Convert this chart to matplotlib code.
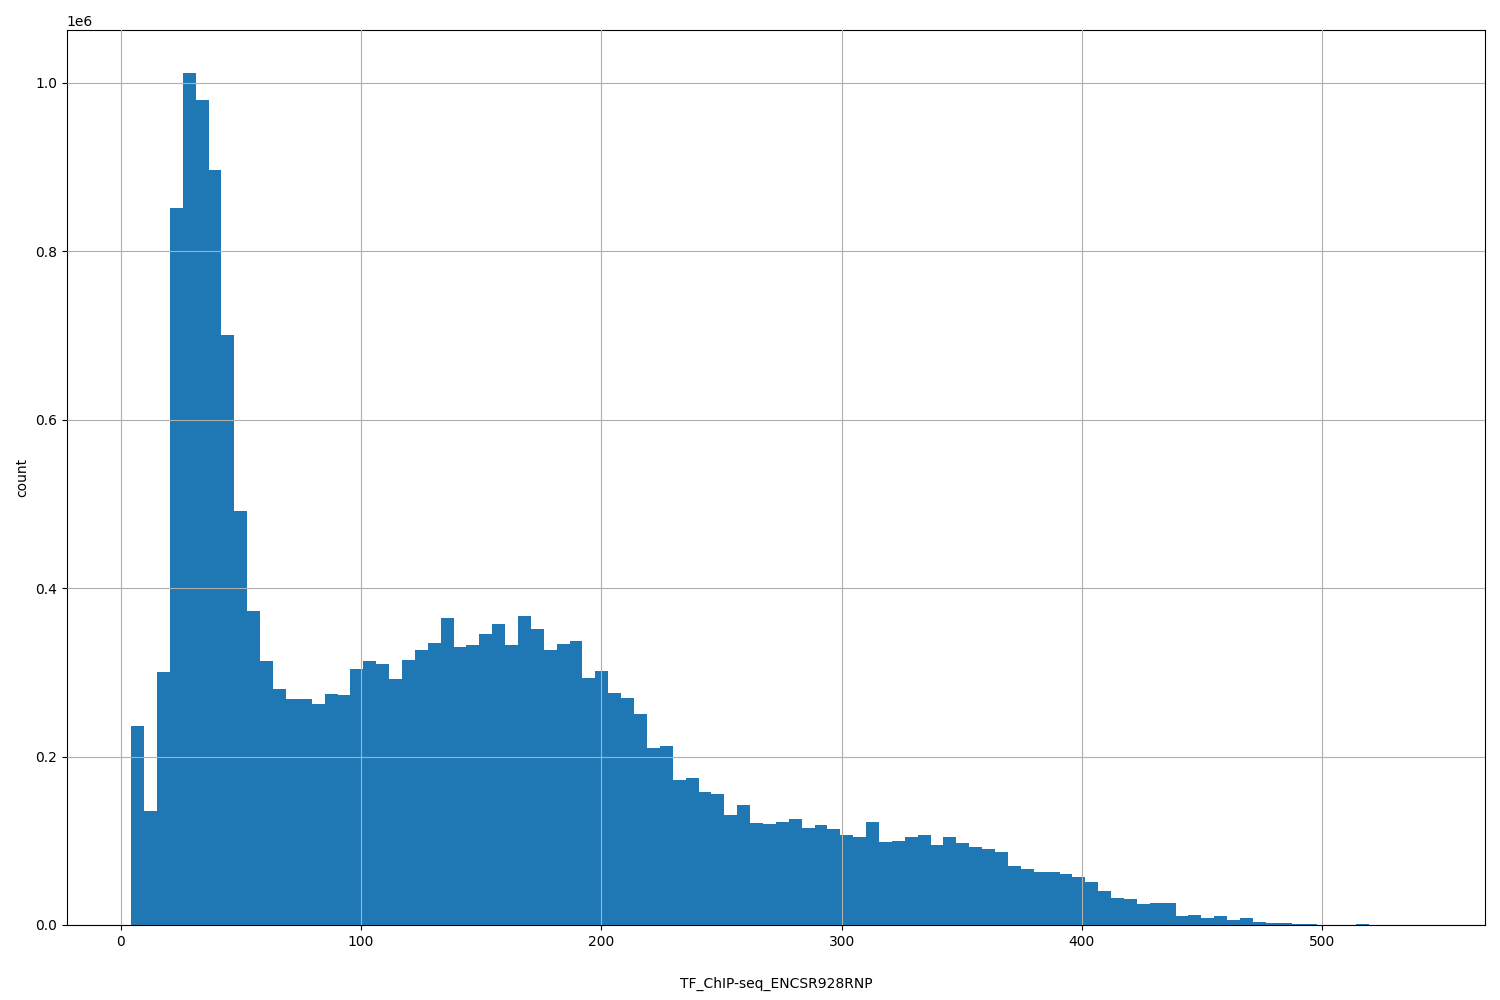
import numpy as np
import matplotlib
matplotlib.use('Agg')
import matplotlib.pyplot as plt

X_MIN, X_MAX = 4.3, 541.0
# bin counts (in units of 1e6)
counts = [0.236, 0.135, 0.300, 0.851, 1.012, 0.980, 0.896, 0.701, 0.491, 0.373,
          0.313, 0.280, 0.268, 0.268, 0.262, 0.274, 0.273, 0.304, 0.313, 0.310,
          0.292, 0.315, 0.327, 0.335, 0.364, 0.330, 0.332, 0.345, 0.357, 0.333,
          0.367, 0.352, 0.327, 0.334, 0.337, 0.293, 0.302, 0.275, 0.270, 0.251,
          0.210, 0.212, 0.172, 0.175, 0.158, 0.156, 0.131, 0.143, 0.121, 0.120,
          0.122, 0.126, 0.115, 0.119, 0.114, 0.107, 0.105, 0.122, 0.099, 0.100,
          0.104, 0.107, 0.095, 0.104, 0.097, 0.093, 0.090, 0.087, 0.070, 0.066,
          0.063, 0.063, 0.060, 0.057, 0.051, 0.040, 0.032, 0.031, 0.025, 0.026,
          0.026, 0.011, 0.012, 0.008, 0.011, 0.006, 0.008, 0.004, 0.002, 0.002,
          0.001, 0.001, 0.0005, 0.0003, 0.0002, 0.0015, 0.0002, 0.0001, 0.0001, 0.0001]

counts = np.array(counts) * 1e6
edges = np.linspace(X_MIN, X_MAX, len(counts) + 1)

fig, ax = plt.subplots(figsize=(15, 10), dpi=100)
fig.subplots_adjust(left=0.0445, right=0.99, top=0.97, bottom=0.075)
ax.hist(edges[:-1], bins=edges, weights=counts, color='#1f77b4')
ax.grid(True)
ax.set_axisbelow(False)
ax.set_xlabel('TF_ChIP-seq_ENCSR928RNP', labelpad=20)
ax.set_ylabel('count')
fig.savefig('out.png')
